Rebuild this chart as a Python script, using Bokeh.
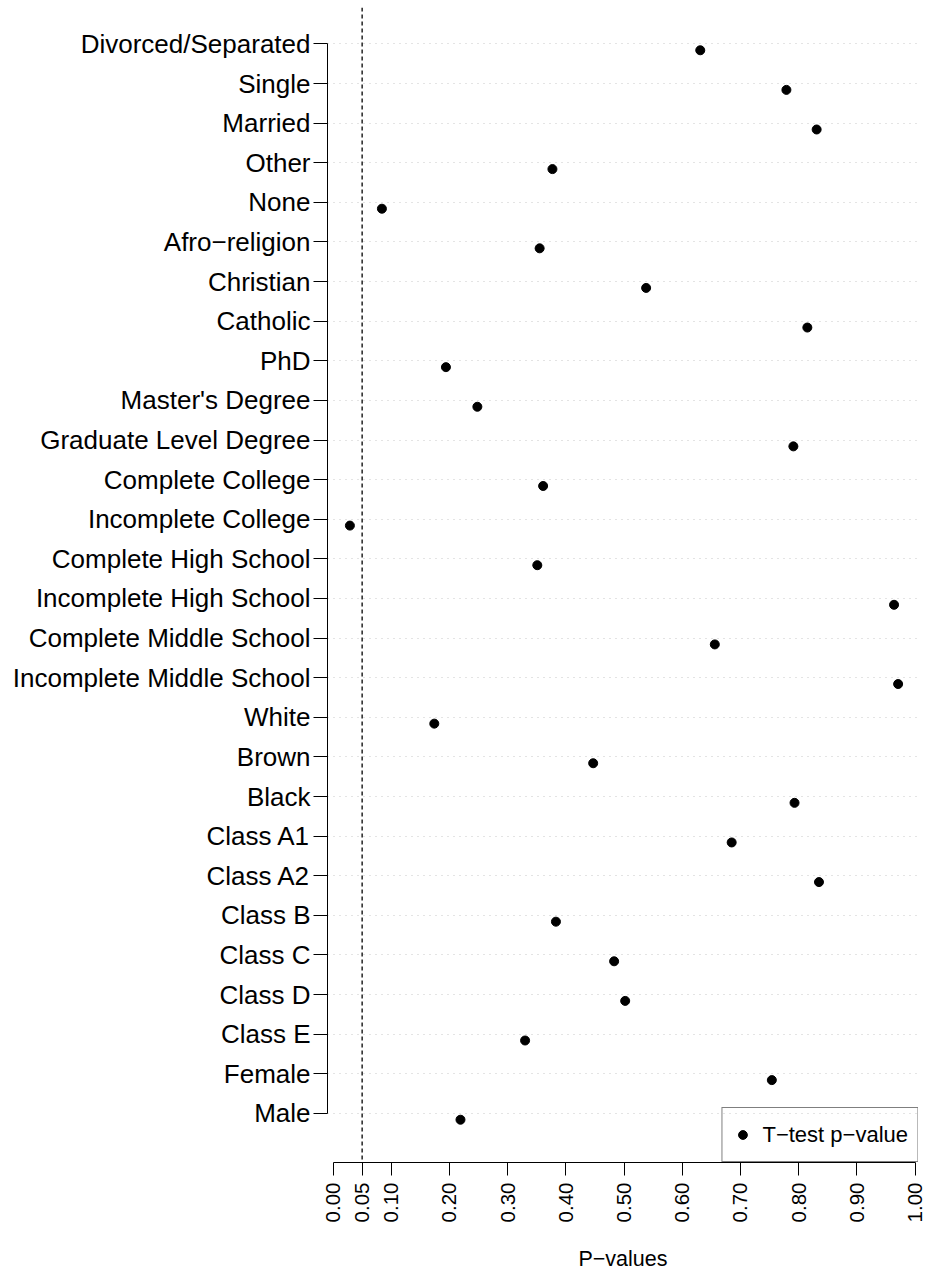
import math

from bokeh.plotting import figure
from bokeh.models import (ColumnDataSource, FixedTicker, Span, Legend, LegendItem,
                          Range1d, PrintfTickFormatter)
from bokeh.embed import file_html
from bokeh.resources import INLINE

# Row labels, top to bottom
categories = [
    "Divorced/Separated", "Single", "Married",
    "Other", "None", "Afro−religion", "Christian", "Catholic",
    "PhD", "Master's Degree", "Graduate Level Degree", "Complete College",
    "Incomplete College", "Complete High School", "Incomplete High School",
    "Complete Middle School", "Incomplete Middle School",
    "White", "Brown", "Black",
    "Class A1", "Class A2", "Class B", "Class C", "Class D", "Class E",
    "Female", "Male",
]

# T-test p-value for each row
p_values = [
    0.631, 0.779, 0.831,
    0.377, 0.084, 0.355, 0.538, 0.815,
    0.194, 0.248, 0.791, 0.361,
    0.029, 0.351, 0.964,
    0.656, 0.971,
    0.174, 0.447, 0.793,
    0.685, 0.835, 0.383, 0.483, 0.502, 0.330,
    0.754, 0.219,
]

x_ticks = [0.0, 0.05, 0.1, 0.2, 0.3, 0.4, 0.5, 0.6, 0.7, 0.8, 0.9, 1.0]
x_tick_labels = ["0.00", "0.05", "0.10", "0.20", "0.30", "0.40",
                 "0.50", "0.60", "0.70", "0.80", "0.90", "1.00"]
alpha_level = 0.05

FONT = "Liberation Sans"
DOT_SHIFT = 0.16  # points sit a little below their label rows

n = len(categories)
rows = [n - i for i in range(n)]  # bottom row = 1
source = ColumnDataSource(data=dict(
    p=p_values,
    y=[r - DOT_SHIFT for r in rows],
    name=categories,
))

p = figure(
    width=929, height=1274,
    x_range=Range1d(-0.0095, 1.006),
    y_range=Range1d(-0.24, n + 0.92),
    output_backend="svg", toolbar_location=None, tools="",
    min_border_left=327, min_border_right=11,
    min_border_top=7, min_border_bottom=111,
    background_fill_color="white", border_fill_color="white",
)
p.outline_line_color = None

# horizontal guide lines at each row
p.xgrid.visible = False
p.ygrid.ticker = FixedTicker(ticks=rows)
p.ygrid.grid_line_color = "#C8C8C8"
p.ygrid.grid_line_dash = "1 5"
p.ygrid.grid_line_width = 1.2

# significance threshold
p.add_layout(Span(location=alpha_level, dimension="height",
                  line_color="black", line_dash="4 3", line_width=1.3))

# small markers used for the legend swatch (hidden beneath the main points)
legend_marks = p.scatter(x="p", y="y", source=source, size=6.5, color="black")
p.scatter(x="p", y="y", source=source, size=9, color="black")

legend = Legend(
    items=[LegendItem(label="T−test p−value", renderers=[legend_marks])],
    location="bottom_right", margin=0, padding=9,
    glyph_width=22, glyph_height=35, label_height=35, label_standoff=9,
    border_line_color="black", border_line_width=1,
    background_fill_alpha=0,
    label_text_font=FONT, label_text_font_size="22px", label_text_color="black",
)
p.add_layout(legend)

# y axis: category names
ya = p.yaxis[0]
ya.ticker = FixedTicker(ticks=rows)
ya.major_label_overrides = {r: c for r, c in zip(rows, categories)}
ya.bounds = (1, n)
ya.major_tick_out = 14
ya.major_tick_in = 0
ya.minor_tick_out = 0
ya.minor_tick_in = 0
ya.major_label_standoff = 3
ya.major_label_text_font = FONT
ya.major_label_text_font_size = "26px"
ya.major_label_text_color = "black"
ya.axis_line_color = "black"
ya.major_tick_line_color = "black"

# x axis: p-value scale
xa = p.xaxis[0]
xa.ticker = FixedTicker(ticks=x_ticks)
xa.formatter = PrintfTickFormatter(format="%.2f")
xa.major_label_overrides = {t: s for t, s in zip(x_ticks, x_tick_labels)}
xa.bounds = (0, 1)
xa.major_label_orientation = math.pi / 2
xa.major_tick_out = 13
xa.major_tick_in = 0
xa.minor_tick_out = 0
xa.minor_tick_in = 0
xa.major_label_standoff = 7
xa.major_label_text_font = FONT
xa.major_label_text_font_size = "20.5px"
xa.major_label_text_color = "black"
xa.axis_label = "P−values"
xa.axis_label_text_font = FONT
xa.axis_label_text_font_size = "21.5px"
xa.axis_label_text_font_style = "normal"
xa.axis_label_text_color = "black"
xa.axis_label_standoff = 22
xa.axis_line_color = "black"
xa.major_tick_line_color = "black"

open("out.html", "w").write(file_html(p, INLINE))
